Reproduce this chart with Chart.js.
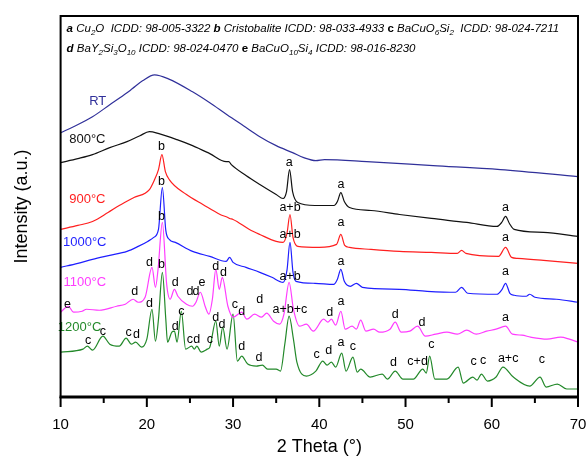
<!DOCTYPE html>
<html>
<head>
<meta charset="utf-8">
<script src="https://cdn.jsdelivr.net/npm/chart.js@4.4.0/dist/chart.umd.min.js"></script>
<style>
  html, body { margin: 0; padding: 0; background: #fff; }
</style>
</head>
<body>
<canvas id="xrdChart" width="586" height="458"></canvas>
<script>
// XRD scans, [2theta, intensity (a.u., stacked)]
var rtScan = [[10,265],[11.5,271],[13.7,281],[15.7,293],[17.7,305],[18.3,309],[19.5,317],[20.9,323],[22.5,319],[25.3,306],[27.3,295],[29.3,283],[31.2,272],[33.1,261],[35,252],[36.9,245],[38.2,240],[39.6,237],[40.6,238],[45.5,236],[53.2,232],[61,228],[70,221]];

var scan800 = [[10,235],[12,239],[13.7,243],[15.7,250],[17.7,256],[19.2,262],[20.3,266],[21.4,264],[23.5,258],[25.3,252],[27.3,244],[29.2,236],[29.5,236],[29.8,233],[31.5,222],[33.1,213],[35,203],[35.8,199],[36.2,206],[36.55,228],[36.9,206],[37.5,195],[39.5,192],[41.7,192],[42.1,196],[42.5,205],[42.9,196],[43.5,190],[46,187],[49.3,183],[53,179],[57.1,175],[60.6,171],[61.15,175],[61.6,181],[62.05,174],[62.6,168],[66,165],[70,161]];

var scan900 = [[10,168],[12,172],[13.7,176],[15.5,185],[16.8,192],[18.5,200],[20.3,208],[20.9,218],[21.35,228],[21.75,243],[22.15,226],[22.6,218],[24.6,203],[26.5,193],[28.5,183],[29.4,180],[29.6,179],[30,178],[31.9,168],[33.1,163],[35,156],[35.8,155],[36.25,164],[36.6,183],[36.95,160],[37.5,151],[40,150],[42,153],[42.5,163],[42.95,152],[43.5,150],[46,148],[49.3,146],[53,145],[56,144],[56.5,147],[57,144],[60.8,141],[61.6,150],[62.3,140],[63,139],[66,137],[70,134]];

var scan1000 = [[10,130],[12,134],[13.7,138],[15.7,142],[17.7,146],[19,151],[20.1,156],[20.8,160],[21.35,168],[21.8,210],[22.2,167],[22.6,158],[23.3,155],[25.3,146],[27.3,141],[29.2,136],[29.6,140],[30,135],[31.5,130],[33.1,125],[34.5,120],[35.8,115],[36.25,127],[36.6,155],[36.95,125],[37.3,116],[39.5,114],[41.7,113],[42.1,118],[42.5,128],[42.9,116],[43.6,111],[44.3,114],[45,110],[49.3,108],[52.5,106],[55.8,105],[56.5,110],[57.2,104],[60.6,103],[61.2,108],[61.6,114],[62.1,104],[62.6,102],[64,101],[64.4,103],[65,100],[67.5,98],[70,95]];

var scan1100 = [[10,85],[10.9,91],[11.5,85],[12.5,86],[13,88],[14.5,87],[16.5,91],[17.5,93],[18.4,98],[19,95],[19.8,100],[20.6,130],[21.0,110],[21.3,128],[21.8,175],[22.3,113],[22.7,98],[23.2,108],[23.6,101],[24.6,93],[25.3,91],[25.7,95],[26.2,105],[26.8,90],[27.2,83],[27.6,98],[28.0,128],[28.4,108],[28.75,120],[29.4,91],[30.0,80],[31.0,85],[31.6,78],[32.5,83],[33.3,80],[33.9,84],[34.7,76],[35.4,73],[35.9,83],[36.5,115],[37.0,88],[37.7,71],[38.5,73],[39.3,66],[40.5,78],[41.0,75],[41.4,78],[41.9,72],[42.5,86],[43.0,68],[43.8,71],[44.3,68],[44.8,77],[45.4,66],[46.3,68],[47,65],[48.2,68],[48.8,75],[49.5,65],[50.5,66],[51.4,71],[52.3,61],[53.5,63],[54.8,65],[56,63],[57.1,67],[58.2,63],[59.4,66],[60.5,68],[61.6,71],[62.4,63],[63.5,62],[64.5,60],[66.4,58],[68,60],[69,58],[70,55]];

var scan1200 = [[10,45],[12.6,48],[13.1,51],[13.7,47],[14.9,61],[15.7,53],[16.8,51],[17.6,59],[18.2,53],[18.7,55],[19.4,50],[20.0,58],[20.6,88],[21.0,56],[21.35,78],[21.8,125],[22.2,78],[22.4,55],[22.9,65],[23.2,66],[23.5,55],[24.0,86],[24.5,48],[25.2,51],[25.5,48],[25.8,51],[26.3,45],[27.0,48],[27.3,50],[28.0,76],[28.4,51],[28.8,70],[29.3,48],[30.0,83],[30.5,36],[31.0,41],[31.7,33],[32.7,31],[33.4,32],[34,28],[35,28],[35.5,26],[36.0,53],[36.5,81],[37.0,58],[37.4,35],[38.5,21],[39.6,26],[40.4,36],[40.9,32],[41.4,35],[41.9,30],[42.6,44],[43.1,26],[43.9,40],[44.4,25],[44.8,28],[45.9,20],[47.3,23],[47.9,18],[48.8,26],[49.7,18],[50.9,18],[52.0,28],[52.4,24],[52.8,41],[53.4,18],[54.8,18],[56.1,30],[56.7,14],[57.8,20],[58.3,17],[58.8,23],[59.5,16],[60.5,20],[61.3,30],[62.5,20],[64.4,11],[65.6,20],[66.3,10],[67.6,13],[68.7,8],[70,8]];

var scanNames = ['RT', '800°C', '900°C', '1000°C', '1100°C', '1200°C'];
var scanColors = ['#30309a', '#111111', '#ff1f1f', '#1e1eff', '#ff3cff', '#23892a'];
var scans = [rtScan, scan800, scan900, scan1000, scan1100, scan1200];

// where each scan name is written, [2theta, intensity]
var nameSpots = [[14.3,296],[13.1,258],[13.1,198],[12.8,155],[12.8,115],[12.2,70]];

// phase letters over the peaks, [2theta, intensity, text]
var peakNotes = [
  [36.5,235,'a'],[42.5,213,'a'],[61.6,190,'a'],
  [21.7,251,'b'],[36.6,190,'a+b'],[42.5,175,'a'],[61.6,160,'a'],
  [21.7,216,'b'],[36.6,163,'a+b'],[42.5,136,'a'],[61.6,126,'a'],
  [10.8,93,'e'],[18.6,106,'d'],[20.3,135,'d'],[21.7,181,'b'],[23.3,115,'d'],[25.0,106,'d'],[25.7,106,'d'],[26.4,115,'e'],
  [28.0,131,'d'],[28.9,125,'d'],[33.1,98,'d'],[36.6,121,'a+b'],[41.2,85,'d'],[42.5,96,'a'],[48.8,83,'d'],[51.9,75,'d'],[61.6,80,'a'],
  [13.2,57,'c'],[14.9,66,'c'],[17.9,65,'c'],[18.8,63,'d'],[20.3,94,'d'],[21.7,133,'b'],[23.3,71,'d'],[24.0,86,'c'],
  [25.0,58,'c'],[25.8,58,'d'],[27.3,58,'c'],[28.0,80,'d'],[28.7,73,'d'],[30.2,93,'c'],[31.0,86,'d'],[31.0,51,'d'],[33.0,40,'d'],
  [36.6,88,'a+b+c'],[39.7,43,'c'],[41.1,47,'d'],[42.5,55,'a'],[43.9,51,'c'],[48.6,35,'d'],[51.4,36,'c+d'],[53.0,53,'c'],
  [57.9,36,'c'],[59.0,37,'c'],[61.9,39,'a+c'],[65.8,38,'c']
];

// phase key: text runs, b = bold, i = italic, s = subscript
var keyLines = [
  [['a','bi'],[' Cu','i'],['2','is'],['O  ICDD: 98-005-3322 ','i'],['b','bi'],[' Cristobalite ICDD: 98-033-4933 ','i'],['c','b'],[' BaCuO','i'],['6','is'],['Si','i'],['2','is'],['  ICDD: 98-024-7211','i']],
  [['d','bi'],[' BaY','i'],['2','is'],['Si','i'],['3','is'],['O','i'],['10','is'],[' ICDD: 98-024-0470 ','i'],['e','b'],[' BaCuO','i'],['10','is'],['Si','i'],['4','is'],[' ICDD: 98-016-8230','i']]
];

var FONT = "'Liberation Sans', Arial, sans-serif";

var framePlugin = {
  id: 'frame',
  afterDraw: function(chart) {
    var ctx = chart.ctx, a = chart.chartArea, x = chart.scales.x;
    ctx.save();
    ctx.strokeStyle = '#000';
    ctx.lineWidth = 2;
    ctx.strokeRect(a.left, a.top, a.right - a.left, a.bottom - a.top);
    ctx.lineWidth = 3;
    ctx.beginPath();
    ctx.moveTo(a.left - 1, a.bottom);
    ctx.lineTo(a.right + 1, a.bottom);
    ctx.stroke();
    ctx.lineWidth = 2;
    for (var v = 10; v <= 70; v += 5) {
      var px = x.getPixelForValue(v);
      var len = v % 10 === 0 ? 10 : 6;
      ctx.beginPath();
      ctx.moveTo(px, a.bottom);
      ctx.lineTo(px, a.bottom + len);
      ctx.stroke();
    }
    ctx.restore();
  }
};

var notesPlugin = {
  id: 'notes',
  afterDatasetsDraw: function(chart) {
    var ctx = chart.ctx, x = chart.scales.x, y = chart.scales.y, a = chart.chartArea;
    ctx.save();
    ctx.textAlign = 'center';
    ctx.textBaseline = 'middle';
    ctx.fillStyle = '#000';
    ctx.font = '12.5px ' + FONT;
    peakNotes.forEach(function(n) {
      ctx.fillText(n[2], x.getPixelForValue(n[0]), y.getPixelForValue(n[1]));
    });
    ctx.font = '13px ' + FONT;
    nameSpots.forEach(function(s, i) {
      ctx.fillStyle = scanColors[i];
      ctx.fillText(scanNames[i], x.getPixelForValue(s[0]), y.getPixelForValue(s[1]));
    });
    // phase key
    ctx.textAlign = 'left';
    ctx.textBaseline = 'alphabetic';
    ctx.fillStyle = '#000';
    keyLines.forEach(function(line, li) {
      var cx = a.left + 6;
      var base = a.top + 16 + li * 20;
      line.forEach(function(run) {
        var st = run[1];
        var size = st.indexOf('s') >= 0 ? 8 : 11.5;
        ctx.font = (st.indexOf('i') >= 0 ? 'italic ' : '') + (st.indexOf('b') >= 0 ? 'bold ' : '') + size + 'px ' + FONT;
        var dy = st.indexOf('s') >= 0 ? 3 : 0;
        ctx.fillText(run[0], cx, base + dy);
        cx += ctx.measureText(run[0]).width;
      });
    });
    ctx.restore();
  }
};
</script>
<script>
var canvas = document.getElementById('xrdChart');
var xrdChart = new Chart(canvas, {
  type: 'line',
  data: {
    datasets: scans.map(function(s, i) {
      return {
        label: scanNames[i],
        data: s,
        borderColor: scanColors[i],
        borderWidth: 1.2,
        fill: false,
        pointRadius: 0,
        cubicInterpolationMode: 'monotone'
      };
    })
  },
  options: {
    responsive: false,
    animation: false,
    layout: { padding: { top: 16, right: 8, left: 0, bottom: 0 } },
    plugins: { legend: { display: false }, tooltip: { enabled: false } },
    scales: {
      x: {
        type: 'linear', min: 10, max: 70,
        grid: { display: false, drawTicks: false },
        border: { display: false },
        ticks: { stepSize: 10, padding: 19, color: '#000', maxRotation: 0, font: { family: FONT, size: 15 } },
        title: { display: true, text: '2 Theta (°)', color: '#000', font: { family: FONT, size: 18 }, padding: { top: 8, bottom: 0 } },
        afterFit: function(scale) {
          scale.height = 61;
          scale.paddingLeft = 0;
          scale.paddingRight = 0;
        }
      },
      y: {
        min: 0, max: 382,
        grid: { display: false, drawTicks: false },
        border: { display: false },
        ticks: { display: false },
        title: { display: true, text: 'Intensity (a.u.)', color: '#000', font: { family: FONT, size: 18 }, padding: { top: 11, bottom: 28 } }
      }
    }
  },
  plugins: [framePlugin, notesPlugin]
});
</script>
</body>
</html>
